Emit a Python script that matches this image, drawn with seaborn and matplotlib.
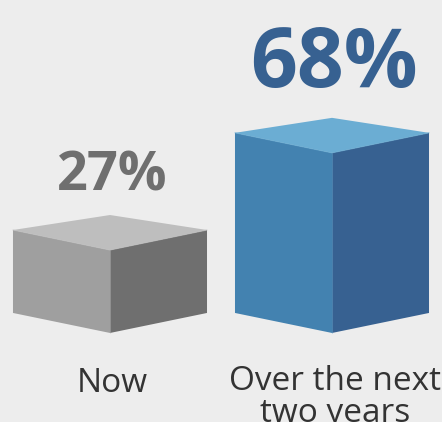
import matplotlib
matplotlib.use("Agg")
import matplotlib.pyplot as plt
import seaborn as sns

# data
categories = ["Now", "Over the next\ntwo years"]
values = [27, 68]
value_labels = ["27%", "68%"]

# one colour triple per cube: top, left face, right face
top_colors = ["#bebebe", "#6badd3"]
left_colors = ["#9f9f9f", "#4382b0"]
right_colors = ["#6f6f6f", "#376191"]
label_colors = ["#6f6f6f", "#376191"]
label_sizes = [39, 59]

sns.set_theme(style="white")
plt.rcParams["font.family"] = ["Open Sans", "DejaVu Sans"]

bg = "#ededed"
fig = plt.figure(figsize=(4.42, 4.22), dpi=100, facecolor=bg)
ax = fig.add_axes([0, 0, 1, 1], facecolor=bg)

px = 2.37          # pixels per percentage point
base = 8           # cubes start a little below zero
front = 20 / px    # drop of the front edge
back = 15 / px     # rise of the back corner
half = 0.437       # half width of a cube in category units

for i, v in enumerate(values):
    x = i
    # left face
    ax.fill([x - half, x, x, x - half],
            [v, v - front, -base - front, -base],
            color=left_colors[i], lw=0)
    # right face
    ax.fill([x, x + half, x + half, x],
            [v - front, v, -base, -base - front],
            color=right_colors[i], lw=0)
    # top face
    ax.fill([x - half, x, x + half, x],
            [v, v - front, v, v + back],
            color=top_colors[i], lw=0)
    # light seams between faces
    ax.plot([x - half, x, x + half], [v, v - front, v], color=top_colors[i], lw=0.8, alpha=0.7)
    ax.plot([x, x], [v - front, -base - front], color=top_colors[i], lw=0.6, alpha=0.5)

    gap = 25 if i == 0 else 31
    ax.text(x + 0.01, v + back + gap / px, value_labels[i], ha="center", va="baseline",
            fontsize=label_sizes[i], fontweight="bold", color=label_colors[i])
    # baseline of the last line; first line sits at pixel 392
    extra = categories[i].count("\n") * 30 / px
    ax.text(x + 0.012, -41.4 - extra, categories[i], ha="center", va="baseline",
            fontsize=24, color="#333333", linespacing=0.95)

ax.set_xlim(-110 / 222, (442 - 110) / 222)
ax.set_ylim(-(422 - 294) / px, 294 / px)
ax.axis("off")

fig.savefig("out.png", dpi=100, facecolor=bg)
